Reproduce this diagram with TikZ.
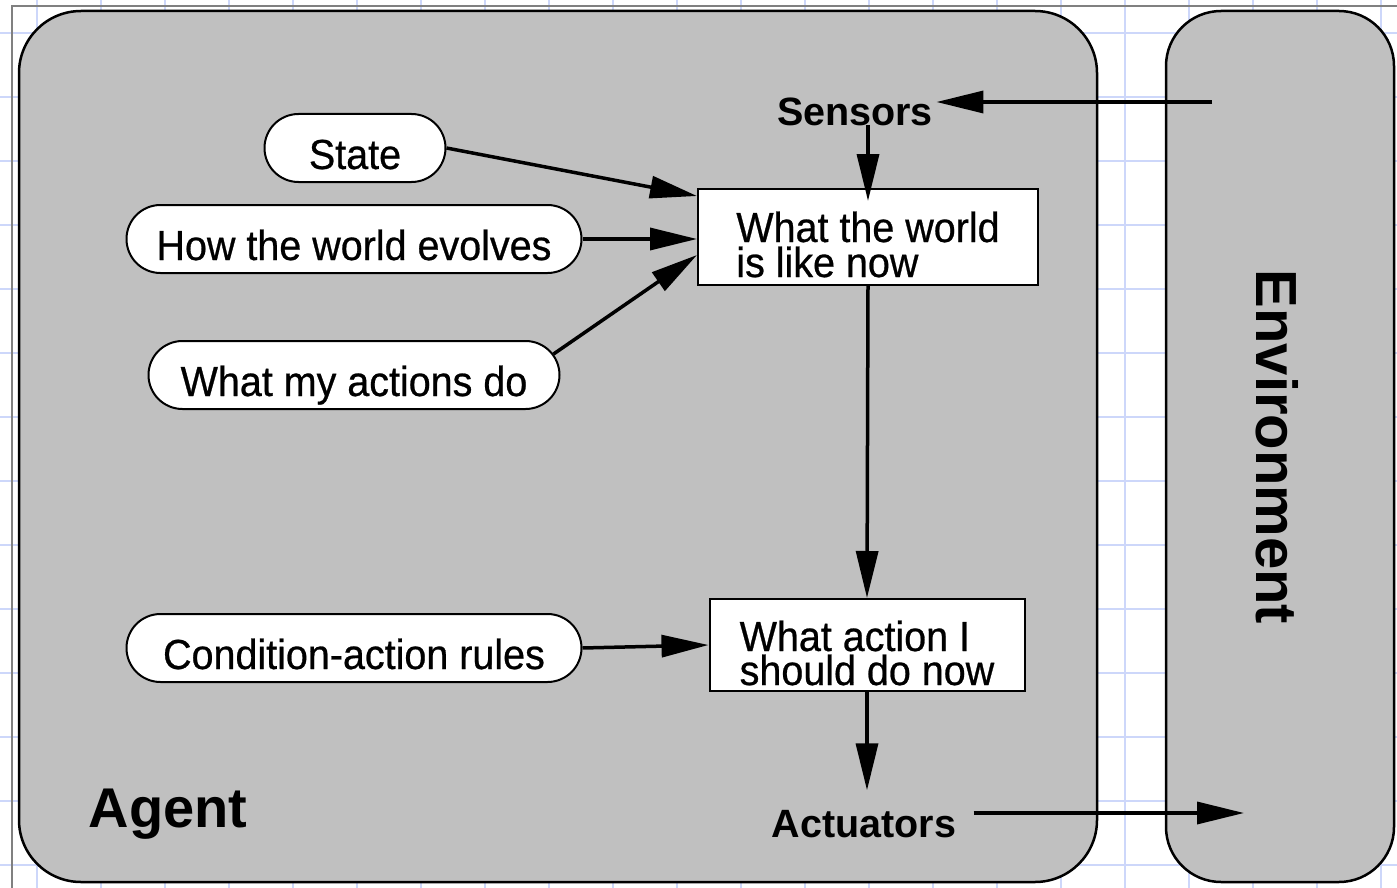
\documentclass[tikz,border=0pt]{standalone}
\usepackage{fontspec}
\setmainfont{Liberation Sans}
\newfontfamily\tallfont[FakeStretch=0.94, FakeBold=0.6]{Liberation Sans}
\usetikzlibrary{arrows.meta,shapes.misc}

\definecolor{gridblue}{RGB}{205,215,250}
\definecolor{panelgray}{RGB}{192,192,192}

\begin{document}
\begin{tikzpicture}[x=1pt, y=-1pt,
  pill/.style={rounded rectangle, draw, line width=2pt, fill=white, minimum height=68pt, inner xsep=0pt, inner ysep=0pt, text height=42pt, text depth=0pt, font=\tallfont\fontsize{42}{35}\selectfont},
  infobox/.style={draw, line width=2pt, fill=white, inner ysep=0pt, align=left, font=\tallfont\fontsize{42}{35}\selectfont},
  tag/.style={anchor=base, font=\bfseries\fontsize{39.5}{40}\selectfont},
  arr/.style={line width=3.5pt, -{Triangle[length=47pt, width=22pt]}}]
\useasboundingbox (0,0) rectangle (1397,888);
\foreach \gx in {37,101,...,1381} \draw[gridblue, line width=1.5pt] (\gx,0) -- (\gx,888);
\foreach \gy in {33,97,...,865} \draw[gridblue, line width=1.5pt] (0,\gy) -- (1397,\gy);
\draw[gray, line width=1.5pt] (12,888) -- (12,6) -- (1397,6);
\draw[fill=panelgray, line width=2.5pt, rounded corners=62pt] (19,11) rectangle (1097,882);
\draw[fill=panelgray, line width=2.5pt, rounded corners=55pt] (1166,11) rectangle (1394,882);
\node[tag, font=\bfseries\fontsize{56}{60}\selectfont] (agent) at (168,827) {Agent};
\node[tag, rotate=-90, font=\bfseries\fontsize{58}{60}\selectfont] (environment) at (1256,447) {Environment};
\node[tag] (sensors) at (855,125) {Sensors};
\node[tag] (actuators) at (864,837) {Actuators};
\node[pill, minimum width=181pt] (state) at (355,148) {State};
\node[pill, minimum width=455pt] (evolves) at (354,239) {How the world evolves};
\node[pill, minimum width=411pt] (actions) at (354,375) {What my actions do};
\node[pill, minimum width=455pt] (rules) at (354,648) {Condition-action rules};
\node[infobox, minimum width=340pt, text height=88pt, text depth=8pt] (world) at (868,237) {What the world\\is like now};
\node[infobox, minimum width=315pt, text height=86pt, text depth=6pt] (action) at (867,645) {What action I\\[-1pt]should do now};
\coordinate (envin) at (1212,102);
\coordinate (envout) at (1244,813);
\draw[arr] (envin) -- (envin -| sensors.east);
\draw[arr] (sensors.base -| world.north) -- ([yshift=-13pt]world.north);
\draw[arr] (state.east) -- ([yshift=41pt]world.west);
\draw[arr] (evolves.east) -- (evolves.east -| world.west);
\draw[arr] (actions.6) -- ([yshift=-18pt]world.west);
\draw[arr] (world.south) -- (action.north);
\draw[arr] (rules.east) -- (action.west);
\draw[arr, shorten >=16pt] (action.south) -- (action.south |- actuators.north);
\draw[arr, shorten <=14pt] (actuators.east |- envout) -- (envout);
\end{tikzpicture}
\end{document}
